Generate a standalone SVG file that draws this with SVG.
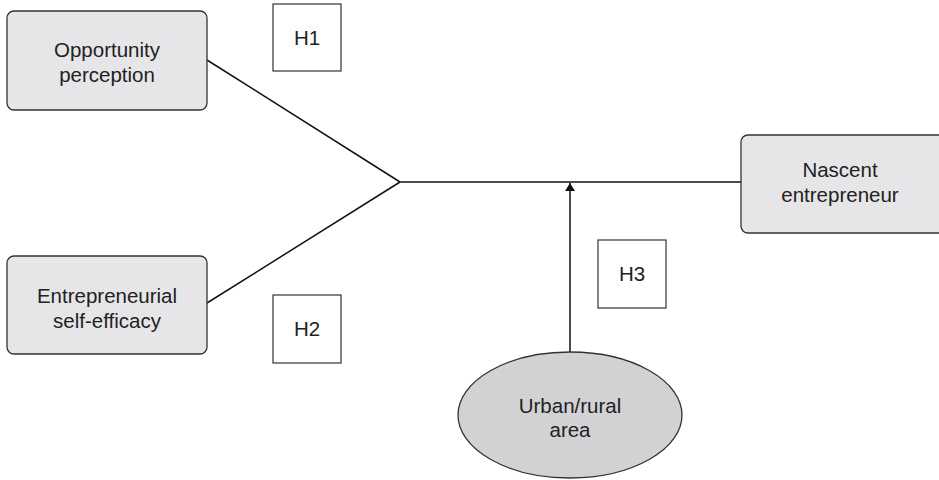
<svg xmlns="http://www.w3.org/2000/svg" width="939" height="480" viewBox="0 0 939 480">
<style>
.node{fill:#e6e6e8;stroke:#333;stroke-width:1.3}
.hbox{fill:#fff;stroke:#333;stroke-width:1.2}
.lbl{font-family:"Liberation Sans",Arial,sans-serif;font-size:20.5px;fill:#222;text-anchor:middle}
.conn{stroke:#111;stroke-width:1.5;fill:none}
</style>
<defs>
<marker id="arr" markerWidth="8" markerHeight="10" refX="8" refY="5" orient="auto" markerUnits="userSpaceOnUse">
<path d="M0,0 L8,5 L0,10 Z" fill="#111"/>
</marker>
</defs>
<rect width="939" height="480" fill="#fff"/>
<g id="connectors">
<line class="conn" x1="207" y1="60" x2="400" y2="182"/>
<line class="conn" x1="207" y1="303" x2="400" y2="182"/>
<line class="conn" x1="400" y1="182" x2="741" y2="182"/>
<line class="conn" x1="570" y1="352" x2="570" y2="183" marker-end="url(#arr)"/>
</g>
<g id="opportunity">
<rect class="node" x="7" y="11" width="200" height="99" rx="7"/>
<text class="lbl" x="107" y="57">Opportunity</text>
<text class="lbl" x="107" y="82">perception</text>
</g>
<g id="selfefficacy">
<rect class="node" x="7" y="256" width="200" height="98" rx="7"/>
<text class="lbl" x="107" y="303">Entrepreneurial</text>
<text class="lbl" x="107" y="328">self-efficacy</text>
</g>
<g id="nascent">
<rect class="node" x="741" y="135" width="205" height="98" rx="7"/>
<text class="lbl" x="840" y="177">Nascent</text>
<text class="lbl" x="840" y="202">entrepreneur</text>
</g>
<g id="urban">
<ellipse cx="570" cy="415" rx="112" ry="63" fill="#d2d2d4" stroke="#333" stroke-width="1.3"/>
<text class="lbl" x="570" y="413">Urban/rural</text>
<text class="lbl" x="570" y="437">area</text>
</g>
<g id="h1">
<rect class="hbox" x="273" y="4" width="68" height="67"/>
<text class="lbl" x="307" y="45">H1</text>
</g>
<g id="h2">
<rect class="hbox" x="273" y="295" width="68" height="68"/>
<text class="lbl" x="307" y="336">H2</text>
</g>
<g id="h3">
<rect class="hbox" x="598" y="240" width="68" height="68"/>
<text class="lbl" x="632" y="281">H3</text>
</g>
</svg>
